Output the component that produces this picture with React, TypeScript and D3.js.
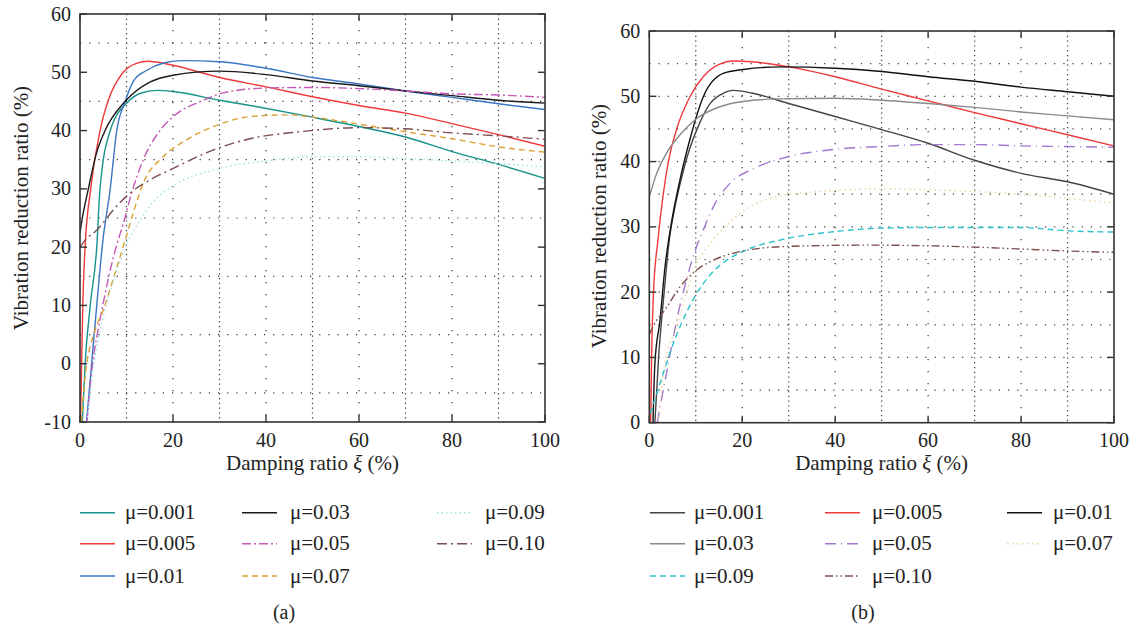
import React from 'react'
import * as d3 from 'd3'

// ---- data: [damping ratio %, reduction ratio %] ----
const a001: [number, number][] = [[0.5, -10], [1.1, 0], [2.2, 10], [3.6, 20], [4.3, 30], [6.5, 40], [10.4, 45], [13, 46.4], [16.5, 46.9], [20, 46.7], [30, 45.2], [38.7, 44], [50, 42.3], [60, 40.7], [70, 38.9], [80, 36.4], [90, 34.2], [100, 31.8]]
const a005: [number, number][] = [[0.1, -10], [0.35, 0], [0.6, 10], [1.1, 20], [2.3, 30], [4.3, 40], [6, 45], [9.3, 50], [12, 51.5], [14.7, 51.9], [20, 51.2], [30, 49.1], [40, 47.5], [50, 45.8], [60, 44.3], [70, 43], [80, 41.2], [90, 39.3], [100, 37.3]]
const a01: [number, number][] = [[1.4, -10], [2.5, 0], [3.6, 10], [4.9, 21], [6.5, 30], [7.9, 40], [9.7, 45], [11.5, 48.5], [14.3, 50.3], [18, 51.6], [22.2, 52], [30, 51.8], [40, 50.7], [50, 49.1], [60, 48], [70, 46.8], [80, 45.7], [90, 44.6], [100, 43.6]]
const a03: [number, number][] = [[0, 22.5], [0.5, 25], [1.8, 30], [3.5, 36], [5.4, 40], [9.7, 45], [15, 48.3], [20, 49.5], [30, 50.2], [40, 49.6], [50, 48.5], [60, 47.7], [70, 46.8], [80, 46], [90, 45.2], [100, 44.7]]
const a05: [number, number][] = [[1.5, -10], [2.7, 0], [3.7, 5], [4.9, 10], [6.2, 15], [7.9, 20.4], [9.3, 24], [11, 29], [13.6, 35], [17.2, 40], [21, 43], [26, 45], [31, 46.5], [40, 47.3], [50, 47.4], [60, 47.2], [70, 46.8], [80, 46.3], [90, 46.1], [100, 45.7]]
const a07: [number, number][] = [[0.3, -10], [1, -3], [3.2, 5.7], [5, 9.2], [7.2, 14.7], [9.7, 21.2], [11.5, 26], [13.6, 31], [17.9, 35.5], [22.9, 38.4], [29.4, 40.9], [36.6, 42.4], [45, 42.7], [50, 42.3], [60, 41.1], [70, 39.8], [80, 38.6], [90, 37.2], [100, 36.3]]
const a09: [number, number][] = [[1.5, -10], [3, 0], [5, 8], [7.5, 15], [10, 20.5], [12.9, 24.6], [16, 28], [20, 30.5], [30, 33.5], [40, 34.8], [50, 35.5], [60, 35.5], [70, 35.2], [80, 34.8], [90, 34.3], [100, 33.8]]
const a10: [number, number][] = [[0, 20], [1.1, 21.2], [3.6, 22.9], [7.5, 26.7], [10.8, 29.3], [15, 31.5], [20.8, 33.8], [28.7, 36.7], [36.6, 38.6], [47.3, 39.8], [60, 40.5], [70, 40.3], [80, 39.6], [90, 39.1], [100, 38.5]]

const b001: [number, number][] = [[1.2, 0], [2, 10], [3.2, 20], [4.3, 28], [5.5, 33], [6.6, 36.5], [8.7, 42], [10.9, 46], [13, 48.8], [15.5, 50.3], [18.1, 50.9], [22, 50.5], [30, 48.9], [40, 46.9], [50, 44.9], [60, 42.8], [70, 40.2], [80, 38.2], [90, 36.9], [100, 35]]
const b005: [number, number][] = [[0.3, 0], [0.5, 10], [0.9, 20], [1.9, 28.2], [4.1, 40], [5.9, 45], [8.8, 50], [11.6, 53], [15, 54.9], [18.1, 55.4], [22, 55.3], [30, 54.5], [40, 53], [50, 51.1], [60, 49.3], [70, 47.5], [80, 45.8], [90, 44.1], [100, 42.4]]
const b01: [number, number][] = [[0.8, 0], [1.2, 9.1], [2.3, 15.7], [3.4, 24], [4.5, 29.5], [6.6, 37.2], [8.7, 43.3], [11.6, 49.9], [15.9, 53.5], [20.2, 54.1], [28.1, 54.5], [40, 54.3], [50, 53.8], [60, 53], [70, 52.3], [80, 51.4], [90, 50.7], [100, 50]]
const b03: [number, number][] = [[0, 34.6], [1.6, 38.2], [3.7, 41.3], [6.6, 44.1], [10.2, 46.6], [15.2, 48.4], [20.2, 49.2], [28.1, 49.6], [40, 49.7], [50, 49.4], [60, 48.9], [70, 48.3], [80, 47.6], [90, 47], [100, 46.4]]
const b05: [number, number][] = [[1.7, 0], [4.1, 9.1], [5.9, 15.7], [8, 21.9], [10.2, 27], [11.6, 29.5], [13.8, 33.1], [17.4, 36.7], [22.4, 38.9], [29.6, 40.7], [39, 41.8], [49.6, 42.3], [60, 42.6], [70, 42.6], [80, 42.4], [90, 42.3], [100, 42.2]]
const b07: [number, number][] = [[2, 0], [3.1, 8], [6, 15], [8, 20], [10, 24], [13.8, 28], [19.5, 32], [29.6, 34.9], [49.6, 35.8], [70, 35.4], [80, 35], [100, 33.6]]
const b09: [number, number][] = [[0.2, 1.4], [2.3, 6], [4.4, 10.6], [6.6, 14.7], [9.8, 19.3], [13.4, 22.9], [16.7, 24.9], [21, 26.5], [29.6, 28.2], [40.3, 29.3], [49.6, 29.8], [60, 29.9], [69.7, 29.9], [80, 29.9], [89.8, 29.4], [100, 29.2]]
const b10: [number, number][] = [[0, 13.5], [1, 15], [3.4, 17.3], [6.6, 20.8], [10.2, 23.4], [13.8, 24.9], [19.5, 26.2], [29.6, 27], [47.5, 27.2], [60, 27.1], [70, 26.9], [80, 26.6], [90, 26.3], [100, 26.1]]

const labelsA = ['μ=0.001', 'μ=0.005', 'μ=0.01', 'μ=0.03', 'μ=0.05', 'μ=0.07', 'μ=0.09', 'μ=0.10']
const labelsB = ['μ=0.001', 'μ=0.005', 'μ=0.01', 'μ=0.03', 'μ=0.05', 'μ=0.07', 'μ=0.09', 'μ=0.10']
const xTicks = [0, 20, 40, 60, 80, 100]
const yTicksA = [-10, 0, 10, 20, 30, 40, 50, 60]
const yTicksB = [0, 10, 20, 30, 40, 50, 60]

const FONT = "'Liberation Serif', 'DejaVu Serif', serif"

type Series = { data: [number, number][]; label: string; color: string; dash?: string; width?: number }

const seriesA: Series[] = [
  { data: a001, label: labelsA[0], color: '#16928c' },
  { data: a005, label: labelsA[1], color: '#f03a3a' },
  { data: a01, label: labelsA[2], color: '#3a76c4' },
  { data: a03, label: labelsA[3], color: '#1a1a1a' },
  { data: a05, label: labelsA[4], color: '#c558b8', dash: '9,3,2,3' },
  { data: a07, label: labelsA[5], color: '#dca032', dash: '6,4' },
  { data: a09, label: labelsA[6], color: '#9ae3e3', dash: '1.5,3' },
  { data: a10, label: labelsA[7], color: '#7d4e4e', dash: '10,4,2,4' },
]

const seriesB: Series[] = [
  { data: b001, label: labelsB[0], color: '#444444' },
  { data: b005, label: labelsB[1], color: '#f03a3a' },
  { data: b01, label: labelsB[2], color: '#111111' },
  { data: b03, label: labelsB[3], color: '#8a8a8a' },
  { data: b05, label: labelsB[4], color: '#a377cf', dash: '11,5,1,5' },
  { data: b07, label: labelsB[5], color: '#ecd39a', dash: '1.5,3.5' },
  { data: b09, label: labelsB[6], color: '#2cc3cc', dash: '6,4' },
  { data: b10, label: labelsB[7], color: '#7d4e4e', dash: '8,3,1.5,3,1.5,3' },
]

type PanelProps = {
  id: string
  left: number; right: number; top: number; bottom: number
  yDomain: [number, number]
  yTicks: number[]
  hGrid: number[]
  series: Series[]
  ylabelY: number
  ylabelX: number
  legendLineX: number[]
  legendTextX: number[]
  rowMajor: boolean
  tag: string
  tagX: number
}

const txt = { fontFamily: FONT, fill: '#222' }

function Panel(p: PanelProps) {
  const x = d3.scaleLinear().domain([0, 100]).range([p.left, p.right])
  const y = d3.scaleLinear().domain(p.yDomain).range([p.bottom, p.top])
  const line = d3.line<[number, number]>().x(d => x(d[0])).y(d => y(d[1])).curve(d3.curveMonotoneX)
  const vMinor = [10, 30, 50, 70, 90]
  const vMajor = [20, 40, 60, 80]
  const rowsY = [512.7, 543.7, 576]
  const grid = '#333'
  return (
    <g>
      <defs>
        <clipPath id={'clip' + p.id}>
          <rect x={p.left} y={p.top} width={p.right - p.left} height={p.bottom - p.top} />
        </clipPath>
      </defs>
      {vMinor.map(v => (
        <line key={'vm' + v} x1={x(v)} x2={x(v)} y1={p.top} y2={p.bottom} stroke={grid} strokeWidth={1.2} strokeDasharray="1.2,3.6" />
      ))}
      {vMajor.map(v => (
        <line key={'vM' + v} x1={x(v)} x2={x(v)} y1={p.top + 4} y2={p.bottom} stroke={grid} strokeWidth={1.2} strokeDasharray="1.2,10.8" />
      ))}
      {p.hGrid.map(v => (
        <line key={'h' + v} x1={p.left} x2={p.right} y1={y(v)} y2={y(v)} stroke={grid} strokeWidth={1.2} strokeDasharray="1.2,8" />
      ))}
      <g clipPath={`url(#clip${p.id})`}>
        {p.series.map(s => (
          <path key={s.label} d={line(s.data) || ''} fill="none" stroke={s.color} strokeWidth={s.width || 1.4} strokeDasharray={s.dash} />
        ))}
      </g>
      <rect x={p.left} y={p.top} width={p.right - p.left} height={p.bottom - p.top} fill="none" stroke="#333" strokeWidth={1.6} />
      {xTicks.map(v => (
        <g key={'xt' + v}>
          <line x1={x(v)} x2={x(v)} y1={p.bottom} y2={p.bottom - 7} stroke="#333" strokeWidth={1.4} />
          <line x1={x(v)} x2={x(v)} y1={p.top} y2={p.top + 7} stroke="#333" strokeWidth={1.4} />
          <text x={x(v)} y={447} textAnchor="middle" style={{ ...txt, fontSize: 20 }}>{v}</text>
        </g>
      ))}
      {p.yTicks.map(v => (
        <g key={'yt' + v}>
          <line x1={p.left} x2={p.left + 7} y1={y(v)} y2={y(v)} stroke="#333" strokeWidth={1.4} />
          <line x1={p.right} x2={p.right - 7} y1={y(v)} y2={y(v)} stroke="#333" strokeWidth={1.4} />
          <text x={p.left - 9} y={y(v) + 6.5} textAnchor="end" style={{ ...txt, fontSize: 20 }}>{v}</text>
        </g>
      ))}
      <text transform={`translate(${p.ylabelX},${p.ylabelY}) rotate(-90)`} textAnchor="middle" style={{ ...txt, fontSize: 21 }}>
        Vibration reduction ratio (%)
      </text>
      <text x={(p.left + p.right) / 2} y={470} textAnchor="middle" style={{ ...txt, fontSize: 21 }}>
        Damping ratio <tspan fontStyle="italic">ξ</tspan> (%)
      </text>
      {p.series.map((s, i) => {
        const col = p.rowMajor ? i % 3 : Math.floor(i / 3)
        const row = p.rowMajor ? Math.floor(i / 3) : i % 3
        const ly = rowsY[row]
        return (
          <g key={'lg' + s.label}>
            <line x1={p.legendLineX[col]} x2={p.legendLineX[col] + 35} y1={ly} y2={ly} stroke={s.color} strokeWidth={1.6} strokeDasharray={s.dash} />
            <text x={p.legendTextX[col]} y={ly + 6.5} style={{ ...txt, fontSize: 21 }}>{s.label}</text>
          </g>
        )
      })}
      <text x={p.tagX} y={619} textAnchor="middle" style={{ ...txt, fontSize: 20 }}>{p.tag}</text>
    </g>
  )
}

export default function App() {
  return (
    <svg width={1135} height={633} style={{ position: 'absolute', left: 0, top: 0, background: '#fff' }}>
      <rect width={1135} height={633} fill="#fff" />
      <Panel
        id="a" left={80} right={545} top={14} bottom={422}
        yDomain={[-10, 60]} yTicks={yTicksA} hGrid={[-5, 5, 15, 25, 35, 45, 55]}
        series={seriesA} ylabelX={28} ylabelY={208}
        legendLineX={[80, 242, 437]} legendTextX={[125, 290, 485]} rowMajor={false}
        tag="(a)" tagX={284}
      />
      <Panel
        id="b" left={649.3} right={1114} top={31} bottom={422.7}
        yDomain={[0, 60]} yTicks={yTicksB} hGrid={[5, 10, 15, 20, 25, 30, 35, 40, 45, 50, 55]}
        series={seriesB} ylabelX={606} ylabelY={226}
        legendLineX={[650, 825, 1007]} legendTextX={[694, 872, 1053]} rowMajor={true}
        tag="(b)" tagX={863}
      />
    </svg>
  )
}
